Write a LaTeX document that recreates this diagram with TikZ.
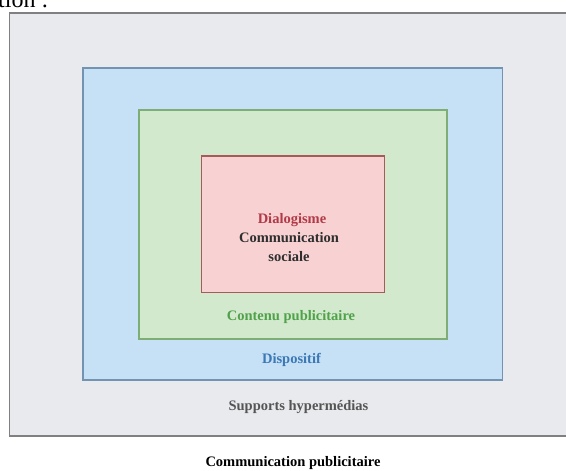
\documentclass[tikz,border=0pt]{standalone}
\usepackage{fontspec}
\setmainfont{Liberation Serif}
\definecolor{grayfill}{HTML}{E8EAED}
\definecolor{grayline}{HTML}{808080}
\definecolor{bluefill}{HTML}{C6E1F6}
\definecolor{blueline}{HTML}{7393B3}
\definecolor{greenfill}{HTML}{D3E9CD}
\definecolor{greenline}{HTML}{7DAE76}
\definecolor{redfill}{HTML}{F8D2D2}
\definecolor{redline}{HTML}{A85A5A}
\definecolor{redtext}{HTML}{B23A48}
\definecolor{greentext}{HTML}{4FA24A}
\definecolor{bluetext}{HTML}{3B78B5}
\definecolor{graytext}{HTML}{555555}
\definecolor{darktext}{HTML}{2E2E2E}
\tikzset{
  lbl/.style={font=\bfseries\fontsize{14.5}{17}\selectfont, inner sep=0pt, align=center},
  layer/.style={line width=1.4pt}
}
\begin{document}
\begin{tikzpicture}[x=1pt,y=-1pt]
\useasboundingbox (0,0) rectangle (566,471);
\clip (0,0) rectangle (566,471);
% cropped text at top-left
\node[anchor=base west, inner sep=0pt, font=\fontsize{24}{26}\selectfont] (cut) at (-2,8) {tion :};
% outer gray
\draw[layer, fill=grayfill, draw=grayline] (9.5,13) rectangle (575,436);
% blue
\draw[layer, fill=bluefill, draw=blueline] (83,68) rectangle (502.5,380);
% green
\draw[layer, fill=greenfill, draw=greenline] (139,110) rectangle (447,339);
% red
\draw[layer, fill=redfill, draw=redline] (201.5,156) rectangle (384.5,292.5);
% labels
\node[lbl, text=redtext] (dia) at (292,220) {Dialogisme};
\node[lbl, text=darktext] (com) at (289,247.5) {Communication\\[2pt]sociale};
\node[lbl, text=greentext] (cont) at (291,317) {Contenu publicitaire};
\node[lbl, text=bluetext] (disp) at (291.5,360) {Dispositif};
\node[lbl, text=graytext] (supp) at (298.5,407) {Supports hypermédias};
\node[lbl, text=black] (compub) at (293,463) {Communication publicitaire};
\end{tikzpicture}
\end{document}
